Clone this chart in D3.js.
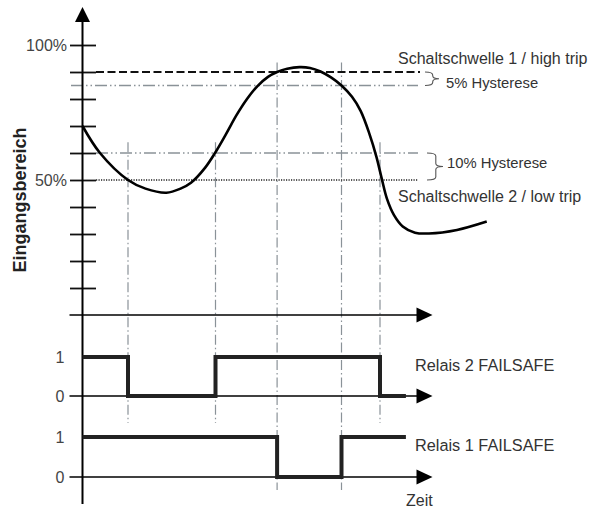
<!DOCTYPE html>
<html>
<head>
<meta charset="utf-8">
<script src="https://cdn.jsdelivr.net/npm/d3@7"></script>
<style>
  body { margin: 0; background: #fff; }
  text { font-family: "Liberation Sans", Arial, sans-serif; }
</style>
</head>
<body>
<svg id="chart" width="598" height="508"></svg>
<script>
// Input signal (time in arbitrary units, value in % of input range)
var timeValues  = [0, 5, 13, 18, 24, 28, 31, 35, 38, 41, 44, 47, 50, 53, 55.6, 58.5, 62, 65, 68, 71, 74, 77, 79.5, 82, 84, 85.5, 87, 89, 91.5, 95, 99, 107, 115.5];
var inputValues = [70, 60, 50, 46.8, 45.3, 46.8, 49, 54.5, 60.3, 67, 74, 80, 84.8, 88.2, 90, 91.2, 91.8, 91.5, 90.2, 88, 85, 80.8, 75.5, 67, 58.5, 50.5, 43, 37, 32.8, 30.5, 30.2, 31.5, 34.6];

// Switching thresholds
var highTrip = 90;
var highHysteresis = 5;
var lowTrip = 50;
var lowHysteresis = 10;

// Relay states (step after each time)
var relay2Times  = [0, 13, 38, 85, 92.4];
var relay2States = [1, 0, 1, 0, 0];
var relay1Times  = [0, 55.6, 74, 92.4];
var relay1States = [1, 0, 1, 1];

// Tick values / labels
var yTickValues = [10, 20, 30, 40, 50, 60, 70, 80, 90, 100];
var yTickLabels = ["", "", "", "", "50%", "", "", "", "", "100%"];
var relayTickValues = [0, 1];
var relayTickLabels = ["0", "1"];

var svg = d3.select("#chart");
var grey = "#8a9298";
var textColor = "#333";

// Scales
var x = d3.scaleLinear().domain([0, 100]).range([82.5, 432.5]);
var y = d3.scaleLinear().domain([0, 100]).range([315, 45]);
var relay2Y = d3.scaleLinear().domain([0, 1]).range([396, 357]);
var relay1Y = d3.scaleLinear().domain([0, 1]).range([477, 437]);

var xLeft = x.range()[0] - 13;   // axis lines start a bit left of the y axis
var xTip = x(100);

// Vertical switching lines (drawn first, under everything)
function switchTimes(times, states) {
  var out = [];
  for (var i = 1; i < times.length; i++) {
    if (states[i] !== states[i - 1]) out.push(times[i]);
  }
  return out;
}
var vLines = switchTimes(relay2Times, relay2States).map(function (t) {
  return { t: t, top: y(lowTrip + lowHysteresis + 4), bottom: relay2Y(0) + 27 };
}).concat(switchTimes(relay1Times, relay1States).map(function (t) {
  return { t: t, top: y(highTrip + 3.5), bottom: relay1Y(0) + 13 };
}));

svg.append("g").selectAll("line")
  .data(vLines)
  .enter().append("line")
  .attr("x1", function (d) { return x(d.t); })
  .attr("x2", function (d) { return x(d.t); })
  .attr("y1", function (d) { return d.top; })
  .attr("y2", function (d) { return d.bottom; })
  .attr("stroke", grey)
  .attr("stroke-width", 1.2)
  .attr("stroke-dasharray", "10,3,1.5,3");

// Threshold lines
var lineEnd = 418;
svg.append("line") // high trip
  .attr("x1", 96).attr("x2", lineEnd + 2)
  .attr("y1", y(highTrip)).attr("y2", y(highTrip))
  .attr("stroke", "#111").attr("stroke-width", 1.8)
  .attr("stroke-dasharray", "8,3.5");
svg.append("line") // high trip - hysteresis
  .attr("x1", 71).attr("x2", lineEnd)
  .attr("y1", y(highTrip - highHysteresis)).attr("y2", y(highTrip - highHysteresis))
  .attr("stroke", grey).attr("stroke-width", 1.3)
  .attr("stroke-dasharray", "12,3,1.5,3,1.5,3");
svg.append("line") // low trip + hysteresis
  .attr("x1", 96).attr("x2", lineEnd)
  .attr("y1", y(lowTrip + lowHysteresis)).attr("y2", y(lowTrip + lowHysteresis))
  .attr("stroke", grey).attr("stroke-width", 1.3)
  .attr("stroke-dasharray", "12,3,1.5,3,1.5,3");
svg.append("line") // low trip
  .attr("x1", 96).attr("x2", lineEnd)
  .attr("y1", y(lowTrip)).attr("y2", y(lowTrip))
  .attr("stroke", "#222").attr("stroke-width", 1.4)
  .attr("stroke-dasharray", "1.2,1.3");

// Curly braces for the hysteresis bands
function brace(x0, y1, y2, w) {
  var xm = x0 + w * 0.55, ym = (y1 + y2) / 2, r = Math.min(3, (y2 - y1) / 4);
  return "M" + x0 + "," + y1 +
    "Q" + xm + "," + y1 + " " + xm + "," + (y1 + r) +
    "L" + xm + "," + (ym - r) +
    "Q" + xm + "," + ym + " " + (x0 + w) + "," + ym +
    "Q" + xm + "," + ym + " " + xm + "," + (ym + r) +
    "L" + xm + "," + (y2 - r) +
    "Q" + xm + "," + y2 + " " + x0 + "," + y2;
}
svg.append("path")
  .attr("d", brace(425, y(highTrip), y(highTrip - highHysteresis), 14))
  .attr("fill", "none").attr("stroke", "#555").attr("stroke-width", 1.1);
svg.append("path")
  .attr("d", brace(427, y(lowTrip + lowHysteresis), y(lowTrip), 16))
  .attr("fill", "none").attr("stroke", "#555").attr("stroke-width", 1.1);

// Y axis ticks (crossing the axis line)
var yAxis = d3.axisLeft(y)
  .tickValues(yTickValues)
  .tickSize(26)
  .tickPadding(3)
  .tickFormat(function (d, i) { return yTickLabels[i]; });
var yAxisG = svg.append("g")
  .attr("transform", "translate(96,0)")
  .call(yAxis);
yAxisG.select(".domain").remove();
yAxisG.selectAll(".tick line").attr("stroke", "#111").attr("stroke-width", 1.8);
yAxisG.attr("font-family", null).attr("font-size", null);
yAxisG.selectAll(".tick text")
  .attr("font-size", 16)
  .attr("fill", "#444");

// Relay axes labels
function relayAxis(scale) {
  var g = svg.append("g")
    .attr("transform", "translate(" + x(0) + ",0)")
    .call(d3.axisLeft(scale)
      .tickValues(relayTickValues)
      .tickSize(0)
      .tickPadding(18)
      .tickFormat(function (d, i) { return relayTickLabels[i]; }));
  g.select(".domain").remove();
  g.attr("font-family", null).attr("font-size", null);
  g.selectAll(".tick text")
    .attr("font-size", 16)
    .attr("fill", "#444");
}
relayAxis(relay2Y);
relayAxis(relay1Y);

// Input curve
var line = d3.line()
  .x(function (d) { return x(d[0]); })
  .y(function (d) { return y(d[1]); })
  .curve(d3.curveCatmullRom.alpha(0.5));
svg.append("path")
  .datum(timeValues.map(function (t, i) { return [t, inputValues[i]]; }))
  .attr("fill", "none")
  .attr("stroke", "#000")
  .attr("stroke-width", 2.6)
  .attr("d", line);

// Horizontal axes with arrows
function hAxis(yPos) {
  svg.append("line")
    .attr("x1", xLeft).attr("x2", xTip - 10)
    .attr("y1", yPos).attr("y2", yPos)
    .attr("stroke", "#000").attr("stroke-width", 1.6);
  svg.append("path")
    .attr("d", "M" + xTip + "," + yPos + "L" + (xTip - 16) + "," + (yPos - 7.5) + "L" + (xTip - 16) + "," + (yPos + 7.5) + "Z")
    .attr("fill", "#000");
}
hAxis(y(0));
hAxis(relay2Y(0));
hAxis(relay1Y(0));

// Vertical axis with arrow
svg.append("line")
  .attr("x1", x(0)).attr("x2", x(0))
  .attr("y1", 18).attr("y2", 504)
  .attr("stroke", "#000").attr("stroke-width", 2);
svg.append("path")
  .attr("d", "M" + x(0) + ",7L" + (x(0) - 7.5) + ",22L" + (x(0) + 7.5) + ",22Z")
  .attr("fill", "#000");

// Relay signals
var step = d3.line()
  .x(function (d) { return d[0]; })
  .y(function (d) { return d[1]; })
  .curve(d3.curveStepAfter);
function relayPath(times, states, scale) {
  svg.append("path")
    .datum(times.map(function (t, i) { return [x(t), scale(states[i])]; }))
    .attr("fill", "none")
    .attr("stroke", "#222")
    .attr("stroke-width", 4)
    .attr("d", step);
}
relayPath(relay2Times, relay2States, relay2Y);
relayPath(relay1Times, relay1States, relay1Y);

// Texts
function label(txt, px, py, size) {
  return svg.append("text")
    .attr("x", px).attr("y", py)
    .attr("font-size", size)
    .attr("fill", textColor)
    .text(txt);
}
label("Schaltschwelle 1 / high trip", 398, 64, 16);
label("5% Hysterese", 446, 88, 14.8);
label("10% Hysterese", 447, 168, 14.8);
label("Schaltschwelle 2 / low trip", 398, 202, 16);
label("Relais 2 FAILSAFE", 415, 371, 16.3);
label("Relais 1 FAILSAFE", 415, 451, 16.3);
label("Zeit", 406, 506, 16);

svg.append("text")
  .attr("transform", "translate(26,200) rotate(-90)")
  .attr("text-anchor", "middle")
  .attr("font-size", 18)
  .attr("font-weight", "bold")
  .attr("fill", "#222")
  .text("Eingangsbereich");
</script>
</body>
</html>
